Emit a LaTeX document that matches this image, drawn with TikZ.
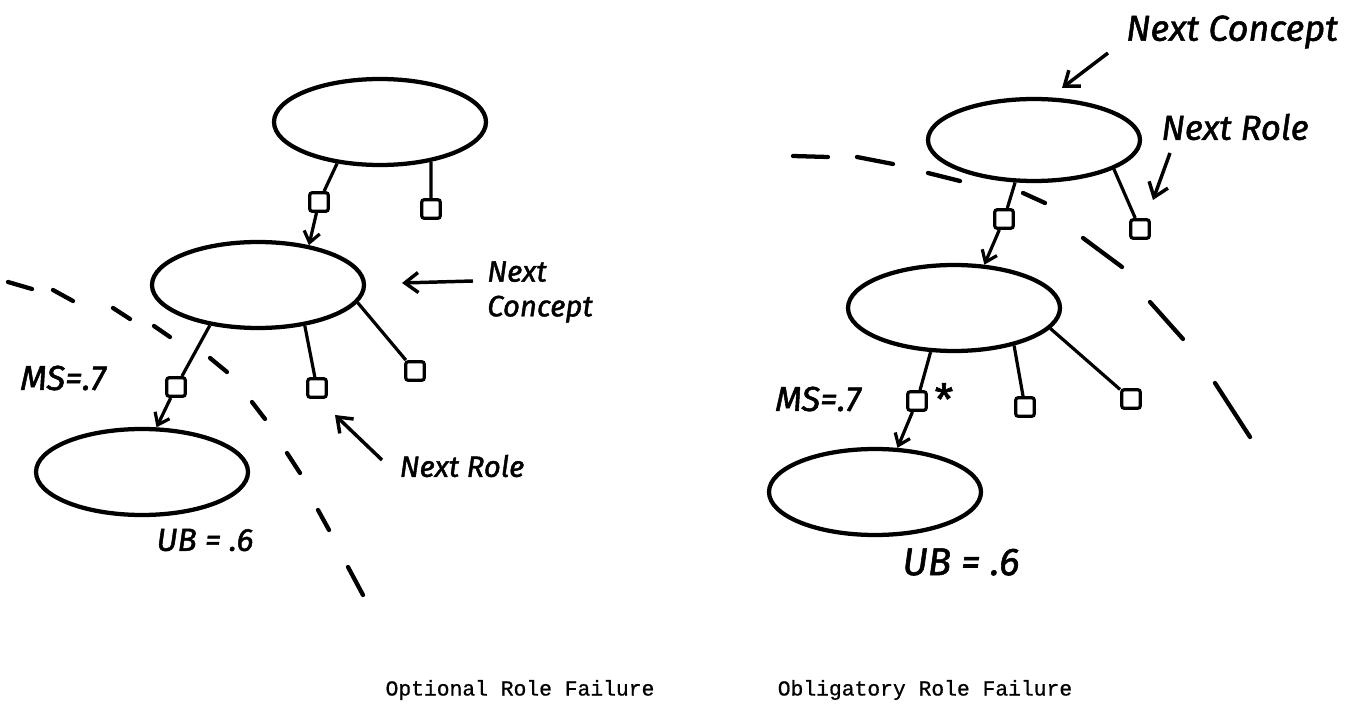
\documentclass[tikz,border=0pt]{standalone}
\usepackage{fontspec}
\usetikzlibrary{shapes.geometric,arrows.meta}
\newfontfamily\hand{Fira Sans}[FakeBold=1.5]
\newfontfamily\tw{Liberation Mono}[FakeBold=0.8]
\begin{document}
\begin{tikzpicture}[x=0.75pt,y=-0.75pt,
  concept/.style={ellipse, draw, line width=3.2pt, minimum width=159pt, minimum height=64.5pt, inner sep=0pt},
  rolebox/.style={rectangle, draw, line width=2.4pt, rounded corners=2pt, minimum size=14pt, inner sep=0pt},
  link/.style={line width=2.4pt},
  roleptr/.style={line width=2.4pt, -{Straight Barb[length=8pt,width=12pt]}},
  ptr/.style={line width=2.6pt, -{Straight Barb[length=10pt,width=15pt]}},
  cutline/.style={line width=3.2pt, line cap=round},
  hw/.style={font=\hand\itshape\fontsize{22}{26}\selectfont, inner sep=0pt},
  hwbig/.style={font=\hand\itshape\fontsize{26}{30}\selectfont, inner sep=0pt},
  title/.style={font=\tw\fontsize{16}{19}\selectfont, inner sep=0pt}]
\path[use as bounding box] (0,0) rectangle (1354,723);

% ---------------- left: optional role failure
\node[concept] (T1) at (380,122) {};
\node[concept] (M1) at (258,285) {};
\node[concept] (B1) at (142,472) {};
\node[rolebox] (L1) at (319,202) {};
\node[rolebox] (L2) at (431,209) {};
\node[rolebox] (L3) at (176,387) {};
\node[rolebox] (L4) at (317,388) {};
\node[rolebox] (L5) at (415,371) {};
\draw[link] (T1.-136) -- (L1);
\draw[link] (T1.-38) -- (L2);
\draw[roleptr] (L1) -- (M1.38);
\draw[link] (M1.-140) -- (L3);
\draw[link] (M1.-41) -- (L4);
\draw[link] (M1.-10) -- (L5);
\draw[roleptr] (L3) -- (B1.72);

\node[hw, anchor=west, align=left] (ncL) at (487,292) {Next\\Concept};
\coordinate (ncLtail) at (473,281);
\coordinate (ncLtip) at (402,283);
\draw[ptr] (ncLtail) -- (ncLtip);
\node[hw] (nrL) at (462,466) {Next Role};
\coordinate (nrLtail) at (382,460);
\coordinate (nrLtip) at (335,415);
\draw[ptr] (nrLtail) -- (nrLtip);
\node[hw, font=\hand\itshape\fontsize{26}{30}\selectfont] (msL) at (63,378) {MS=.7};
\node[hw, font=\hand\itshape\fontsize{24}{30}\selectfont] (ubL) at (205,540) {UB = .6};

\draw[cutline] (8,282) -- (32,289);
\draw[cutline] (53,290) -- (73,301);
\draw[cutline] (113,308) -- (130,319);
\draw[cutline] (154,326) -- (170,337);
\draw[cutline] (210,358) -- (227,372);
\draw[cutline] (252,402) -- (265,419);
\draw[cutline] (287,453) -- (300,473);
\draw[cutline] (318,510) -- (329,530);
\draw[cutline] (348,567) -- (363,595);

% ---------------- right: obligatory role failure
\node[concept, minimum height=61.5pt] (T2) at (1034,140) {};
\node[concept] (M2) at (954,308) {};
\node[concept] (B2) at (875,492) {};
\node[rolebox] (R1) at (1004,219) {};
\node[rolebox] (R2) at (1140,229) {};
\node[rolebox] (R3) at (917,401) {};
\node[rolebox] (R4) at (1025,407) {};
\node[rolebox] (R5) at (1131,399) {};
\draw[link] (T2.-114) -- (R1);
\draw[link] (T2.-20) -- (R2);
\draw[roleptr] (R1) -- (M2.55);
\draw[link] (M2.-118) -- (R3);
\draw[link] (M2.-32) -- (R4);
\draw[link] (M2.-12) -- (R5);
\draw[roleptr] (R3) -- (B2.63);
\node[font=\hand\fontsize{32}{32}\selectfont, inner sep=0pt] (star) at (944,399) {*};

\node[hwbig, font=\hand\itshape\fontsize{27}{30}\selectfont] (ncR) at (1232,32) {Next Concept};
\coordinate (ncRtail) at (1108,53);
\coordinate (ncRtip) at (1062,88);
\draw[ptr] (ncRtail) -- (ncRtip);
\node[hwbig] (nrR) at (1235,127) {Next Role};
\coordinate (nrRtail) at (1170,153);
\coordinate (nrRtip) at (1153,200);
\draw[ptr] (nrRtail) -- (nrRtip);
\node[hw, font=\hand\itshape\fontsize{26}{30}\selectfont] (msR) at (818,399) {MS=.7};
\node[hwbig, font=\hand\itshape\fontsize{29}{32}\selectfont] (ubR) at (961,562) {UB = .6};

\draw[cutline] (793,156) -- (828,157);
\draw[cutline] (857,157) -- (893,164);
\draw[cutline] (928,173) -- (960,181);
\draw[cutline] (1023,193) -- (1045,203);
\draw[cutline] (1083,238) -- (1122,267);
\draw[cutline] (1150,302) -- (1183,339);
\draw[cutline] (1215,383) -- (1250,437);

% ---------------- titles
\node[title] (t1) at (520,690) {Optional Role Failure};
\node[title] (t2) at (925,690) {Obligatory Role Failure};
\end{tikzpicture}
\end{document}
